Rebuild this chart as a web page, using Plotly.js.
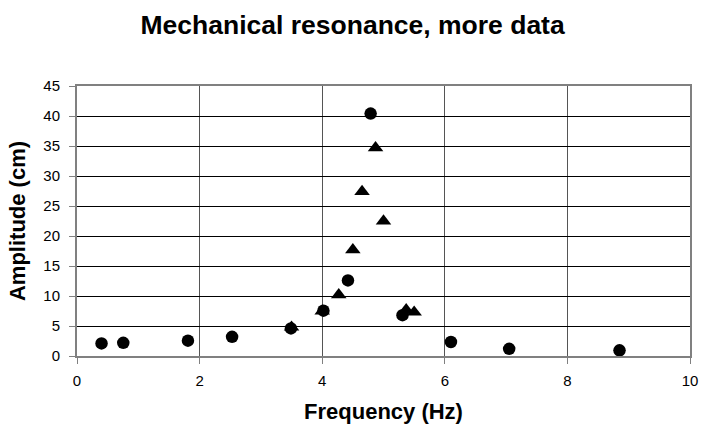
<!DOCTYPE html>
<html><head><meta charset="utf-8">
<script src="https://cdn.plot.ly/plotly-3.0.1.min.js"></script>
<style>body{margin:0;background:#fff}#c{width:701px;height:428px}</style>
</head><body><div id="c"></div>
<script>
var circleFreq = [0.40, 0.755, 1.81, 2.53, 3.49, 4.02, 4.42, 4.79, 5.31, 6.10, 7.05, 8.85];
var circleAmp  = [2.1, 2.2, 2.55, 3.2, 4.6, 7.55, 12.6, 40.4, 6.8, 2.33, 1.2, 0.95];
var triFreq = [3.50, 4.00, 4.27, 4.50, 4.65, 4.87, 5.00, 5.37, 5.50];
var triAmp  = [4.8, 7.5, 10.2, 17.7, 27.4, 34.7, 22.5, 7.7, 7.3];
var xTicks = [0, 2, 4, 6, 8, 10];
var yTicks = [0, 5, 10, 15, 20, 25, 30, 35, 40, 45];

var fam = 'Liberation Sans, Arial, sans-serif';
var traces = [
  {x: triFreq, y: triAmp, mode: 'markers', type: 'scatter', name: 'triangles',
   marker: {symbol: 'triangle-up', size: 13.5, color: '#000'}},
  {x: circleFreq, y: circleAmp, mode: 'markers', type: 'scatter', name: 'circles',
   marker: {symbol: 'circle', size: 12.5, color: '#000'}}
];
var layout = {
  width: 701, height: 428, showlegend: false,
  paper_bgcolor: '#fff', plot_bgcolor: '#fff',
  margin: {l: 77, r: 11, t: 86, b: 72},
  font: {family: fam, color: '#000'},
  title: {text: '<b>Mechanical resonance, more data</b>', x: 0.503, xanchor: 'center',
          yref: 'container', y: 0.942, yanchor: 'middle',
          font: {family: fam, size: 26.5, color: '#000'}},
  xaxis: {range: [0, 10], tickvals: xTicks, ticktext: xTicks.map(String), showgrid: true, gridcolor: '#555', gridwidth: 1,
          zeroline: false, showline: true, linecolor: '#808080', linewidth: 2, mirror: true,
          ticks: 'outside', ticklen: 6, tickcolor: '#808080', ticklabelstandoff: 4,
          tickfont: {family: fam, size: 15, color: '#000'},
          title: {text: '<b>Frequency (Hz)</b>', standoff: 16, font: {family: fam, size: 22, color: '#000'}}},
  yaxis: {range: [0, 45], tickvals: yTicks, ticktext: yTicks.map(String), showgrid: true, gridcolor: '#000', gridwidth: 1,
          zeroline: false, showline: true, linecolor: '#808080', linewidth: 2, mirror: true,
          ticks: 'outside', ticklen: 6, tickcolor: '#808080', ticklabelstandoff: 6,
          tickfont: {family: fam, size: 15, color: '#000'},
          title: {text: '<b>Amplitude (cm)</b>', standoff: 12, font: {family: fam, size: 22, color: '#000'}}}
};
Plotly.newPlot('c', traces, layout, {displayModeBar: false, staticPlot: true});
</script></body></html>
